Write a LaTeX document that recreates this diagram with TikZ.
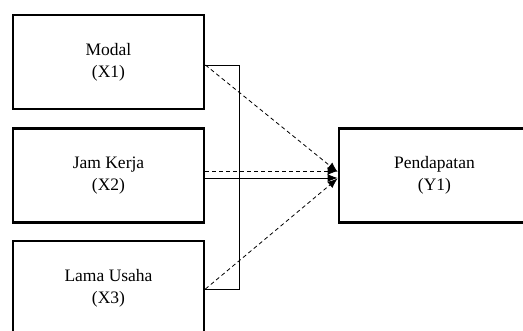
\documentclass[tikz,border=0pt]{standalone}
\usepackage{fontspec}
\setmainfont{Liberation Serif}
\usetikzlibrary{arrows.meta}
\begin{document}
\begin{tikzpicture}[x=1pt,y=-1pt,
    varbox/.style={draw,line width=2.8pt,minimum width=191pt,minimum height=94pt,
      align=center,inner sep=0pt,font=\fontsize{17.5}{22}\selectfont},
    link/.style={line width=0.8pt},
    dlink/.style={line width=0.8pt,dash pattern=on 4pt off 3pt,-{Latex[length=10pt,width=8pt]}}]
  \useasboundingbox (0,0) rectangle (523,331);
  \node[varbox] (M) at (108.5,62) {Modal\\(X1)};
  \node[varbox] (K) at (108.5,175.5) {Jam Kerja\\(X2)};
  \node[varbox] (L) at (108.5,288) {Lama Usaha\\(X3)};
  \node[varbox] (P) at (434.5,175.5) {Pendapatan\\(Y1)};
  \coordinate (T) at (239,65);

  \draw[link] ([yshift=-3]M.east) -- (T) |- ([yshift=-1]L.east);
  \draw[link,-{Latex[length=10pt,width=8pt]}] ([yshift=-2.5]K.east) -- ([yshift=-2.5]P.west);
  \draw[dlink] ([yshift=-3]M.east) -- ([yshift=3.5]P.west);
  \draw[dlink] ([yshift=4.5]K.east) -- ([yshift=4.5]P.west);
  \draw[dlink] ([yshift=-1]L.east) -- ([yshift=-3]P.west);
\end{tikzpicture}
\end{document}
